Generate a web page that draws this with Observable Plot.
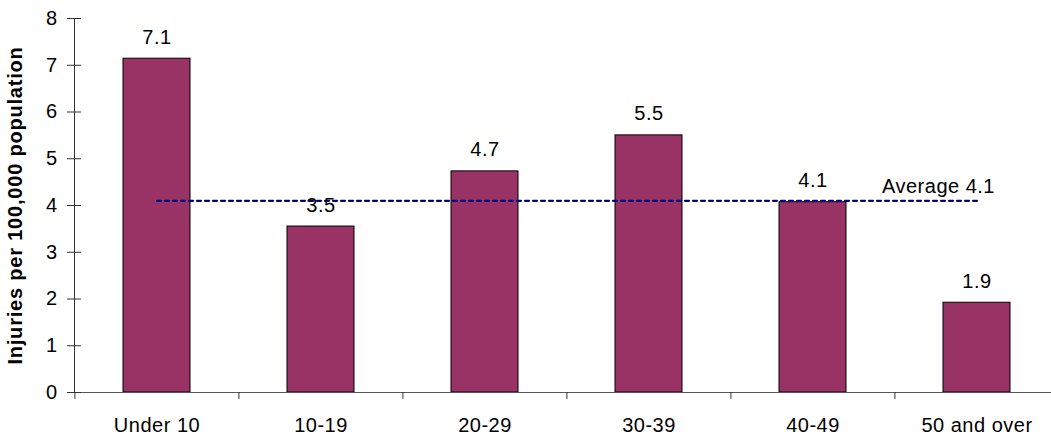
<!DOCTYPE html>
<html>
<head>
<meta charset="utf-8">
<script src="https://cdn.jsdelivr.net/npm/d3@7"></script>
<script src="https://cdn.jsdelivr.net/npm/@observablehq/plot@0.6"></script>
<style>
  html, body { margin: 0; padding: 0; background: #fff; overflow: hidden; }
  #chart svg { font-family: "Liberation Sans", Arial, sans-serif; display: block; }
</style>
</head>
<body>
<div id="chart"></div>
<script>
const categories = ["Under 10", "10-19", "20-29", "30-39", "40-49", "50 and over"];
const values = [7.14, 3.55, 4.73, 5.5, 4.07, 1.92];
const valueLabels = ["7.1", "3.5", "4.7", "5.5", "4.1", "1.9"];
const average = 4.1;
const averageLabel = "Average 4.1";
const yTicks = [0, 1, 2, 3, 4, 5, 6, 7, 8];
const yTitle = "Injuries per 100,000 population";

const data = categories.map((c, i) => ({category: c, value: values[i], label: valueLabels[i]}));
const avgLine = [{category: categories[0], value: average}, {category: categories[categories.length - 1], value: average}];

const width = 1051, height = 435;
const marginLeft = 74, marginRight = -8, marginTop = 18, marginBottom = 43;
const step = (width - marginRight - marginLeft) / categories.length;
const fs = 20;

const chart = Plot.plot({
  width, height, marginLeft, marginRight, marginTop, marginBottom,
  style: {fontFamily: "Liberation Sans, Arial, sans-serif", fontSize: fs + "px", color: "#000", overflow: "hidden"},
  x: {domain: categories, type: "band", paddingInner: 0.59, paddingOuter: 0.295, label: null},
  y: {domain: [0, 8], label: null},
  marks: [
    Plot.barY(data, {x: "category", y: "value", fill: "#993366", stroke: "#000", strokeWidth: 1}),
    Plot.ruleY([0], {stroke: "#555", strokeWidth: 1}),
    Plot.frame({anchor: "left", stroke: "#333"}),
    Plot.axisY({ticks: yTicks, tickSize: 14, dx: 7, text: null, stroke: "#333"}),
    Plot.axisY({ticks: yTicks, tickSize: 0, tickPadding: 17, fontSize: fs}),
    Plot.axisX({tickSize: 7, dx: -step / 2, text: null, stroke: "#333"}),
    Plot.axisX({tickSize: 0, tickPadding: 25, fontSize: fs}),
    Plot.line(avgLine, {x: "category", y: "value", stroke: "#000080", strokeWidth: 2.2, strokeDasharray: "4,4"}),
    Plot.text(data, {x: "category", y: "value", text: "label", lineAnchor: "bottom", dy: -15, fontSize: fs}),
    Plot.text([averageLabel], {x: () => categories[4], y: () => average, text: d => d, textAnchor: "start", lineAnchor: "bottom", dx: 69, dy: -8, fontSize: fs}),
    Plot.text([yTitle], {frameAnchor: "left", rotate: -90, textAnchor: "middle", dx: -59, fontWeight: "bold", fontSize: fs, text: d => d})
  ]
});
chart.querySelectorAll("text").forEach(t => t.style.letterSpacing = "0.5px");
const title = chart.querySelectorAll("text");
title.forEach(t => { if (t.textContent === yTitle) t.style.letterSpacing = "0.8px"; });
document.getElementById("chart").appendChild(chart);
</script>
</body>
</html>
